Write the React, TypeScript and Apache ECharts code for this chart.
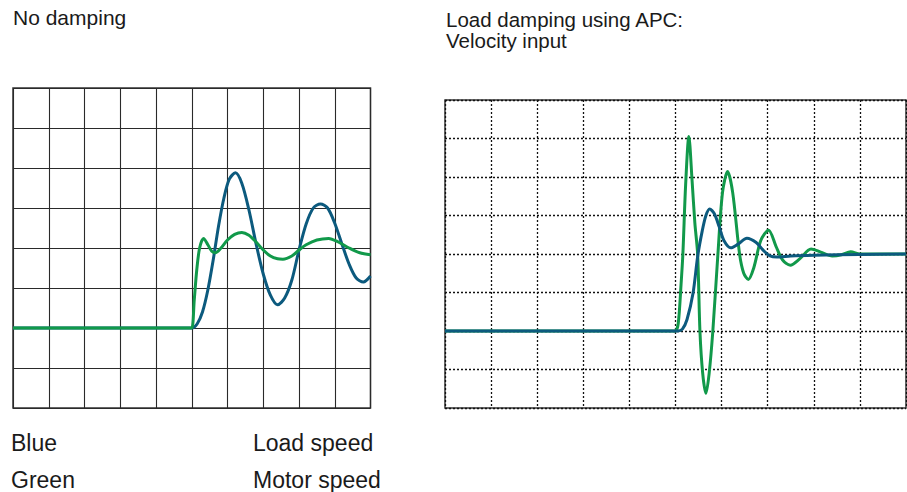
import React, { useEffect, useRef } from "react";
import * as echarts from "echarts";

const leftTitle = "No damping";
const rightTitle1 = "Load damping using APC:";
const rightTitle2 = "Velocity input";
const legendNames = ["Blue", "Green"];
const legendMeanings = ["Load speed", "Motor speed"];

const BLUE = "#0c5a7e";
const GREEN = "#11994a";

// Left chart (no damping): [time, value] in grid units
const leftLoad: number[][] = [
  [0, 2], [4.9, 2], [5.0, 2.0], [5.15, 2.1], [5.3, 2.4], [5.45, 2.95], [5.6, 3.7], [5.75, 4.55],
  [5.9, 5.25], [6.05, 5.72], [6.22, 5.88], [6.4, 5.62], [6.6, 4.95], [6.8, 4.1], [7.0, 3.35],
  [7.2, 2.82], [7.4, 2.58], [7.6, 2.75], [7.8, 3.2], [8.0, 3.95], [8.2, 4.6], [8.4, 5.0],
  [8.6, 5.1], [8.8, 5.0], [9.0, 4.62], [9.2, 4.1], [9.4, 3.6], [9.6, 3.25], [9.8, 3.15], [10, 3.3],
];
const leftMotor: number[][] = [
  [0, 2], [4.9, 2], [5.0, 2.0], [5.07, 2.7], [5.14, 3.45], [5.22, 4.0], [5.33, 4.24], [5.45, 4.08],
  [5.56, 3.92], [5.66, 3.88], [5.8, 3.98], [6.0, 4.2], [6.2, 4.34], [6.4, 4.39], [6.6, 4.32],
  [6.8, 4.15], [7.0, 3.95], [7.2, 3.8], [7.4, 3.73], [7.55, 3.72], [7.8, 3.8], [8.0, 3.95],
  [8.2, 4.08], [8.5, 4.2], [8.83, 4.24], [9.1, 4.15], [9.4, 4.0], [9.7, 3.88], [10, 3.83],
];

// Right chart (APC velocity input)
const rightLoad: number[][] = [
  [0, 2], [4.95, 2], [5.05, 2], [5.15, 2.05], [5.25, 2.3], [5.38, 2.98], [5.48, 3.93], [5.58, 4.6],
  [5.66, 5.0], [5.74, 5.17], [5.84, 5.05], [5.95, 4.7], [6.05, 4.35], [6.2, 4.16], [6.35, 4.25],
  [6.55, 4.41], [6.75, 4.3], [6.9, 4.1], [7.05, 3.95], [7.2, 3.92], [7.5, 3.95], [8.0, 3.97],
  [9.0, 3.99], [10, 4.0],
];
const rightMotor: number[][] = [
  [0, 2], [4.95, 2], [5.0, 2.0], [5.06, 2.2], [5.12, 3.2], [5.16, 4.0], [5.22, 5.8], [5.29, 7.05],
  [5.36, 5.9], [5.42, 4.8], [5.48, 4.0], [5.53, 2.0], [5.59, 0.9], [5.66, 0.38], [5.73, 0.9],
  [5.81, 2.0], [5.92, 4.0], [6.02, 5.6], [6.13, 6.14], [6.24, 5.6], [6.39, 4.0], [6.48, 3.5],
  [6.58, 3.34], [6.7, 3.65], [6.85, 4.35], [7.02, 4.62], [7.18, 4.2], [7.32, 3.85], [7.49, 3.71],
  [7.7, 3.88], [7.94, 4.13], [8.15, 4.05], [8.4, 3.95], [8.6, 3.98], [8.8, 4.06], [9.0, 4.0],
  [10, 4.0],
];

const FONT = "'Liberation Sans', Arial, sans-serif";

export default function App() {
  const ref = useRef<HTMLDivElement>(null);
  useEffect(() => {
    if (!ref.current) return;
    const chart = echarts.init(ref.current, undefined, { renderer: "svg" });
    const axis = (gridIndex: number, max: number, lineStyle: any) => ({
      type: "value",
      gridIndex,
      min: 0,
      max,
      interval: 1,
      axisLine: { show: false },
      axisTick: { show: false },
      axisLabel: { show: false },
      splitLine: { show: true, lineStyle },
    });
    const leftGridLine = { color: "#2a2a2a", width: 1.1, type: "solid" };
    const rightGridLine = { color: "#111", width: 1.3, type: [2, 2] };
    const line = (name: string, data: number[][], color: string, idx: number, z: number) => ({
      type: "line",
      name,
      data,
      xAxisIndex: idx,
      yAxisIndex: idx,
      showSymbol: false,
      symbol: "none",
      smooth: 0.3,
      lineStyle: { color, width: 3 },
      z,
    });
    const txt = (text: string, x: number, y: number, size: number) => ({
      type: "text",
      style: {
        text,
        x,
        y,
        font: `${size}px ${FONT}`,
        fill: "#1a1a1a",
        textVerticalAlign: "middle",
        verticalAlign: "middle",
      },
    });
    chart.setOption({
      animation: false,
      backgroundColor: "#ffffff",
      grid: [
        { left: 13, top: 88, width: 357.5, height: 320, show: true, borderColor: "#333", borderWidth: 1.5, backgroundColor: "#fff" },
        { left: 445, top: 100, width: 461, height: 308, show: true, borderColor: "#333", borderWidth: 1.5, backgroundColor: "#fff" },
      ],
      xAxis: [axis(0, 10, leftGridLine), axis(1, 10, rightGridLine)],
      yAxis: [axis(0, 8, leftGridLine), axis(1, 8, rightGridLine)],
      series: [
        line("Load speed", leftLoad, BLUE, 0, 2),
        line("Motor speed", leftMotor, GREEN, 0, 3),
        line("Motor speed", rightMotor, GREEN, 1, 2),
        line("Load speed", rightLoad, BLUE, 1, 3),
      ],
      graphic: [
        txt(leftTitle, 13, 17, 21),
        txt(rightTitle1, 446, 19, 20.5),
        txt(rightTitle2, 446, 40, 20.5),
        txt(legendNames[0], 11, 443, 23),
        txt(legendNames[1], 11, 480, 23),
        txt(legendMeanings[0], 253, 443, 23),
        txt(legendMeanings[1], 253, 480, 23),
      ],
    });
    return () => chart.dispose();
  }, []);
  return (
    <div
      ref={ref}
      style={{ position: "fixed", left: 0, top: 0, width: 907, height: 492, background: "#fff" }}
    />
  );
}
